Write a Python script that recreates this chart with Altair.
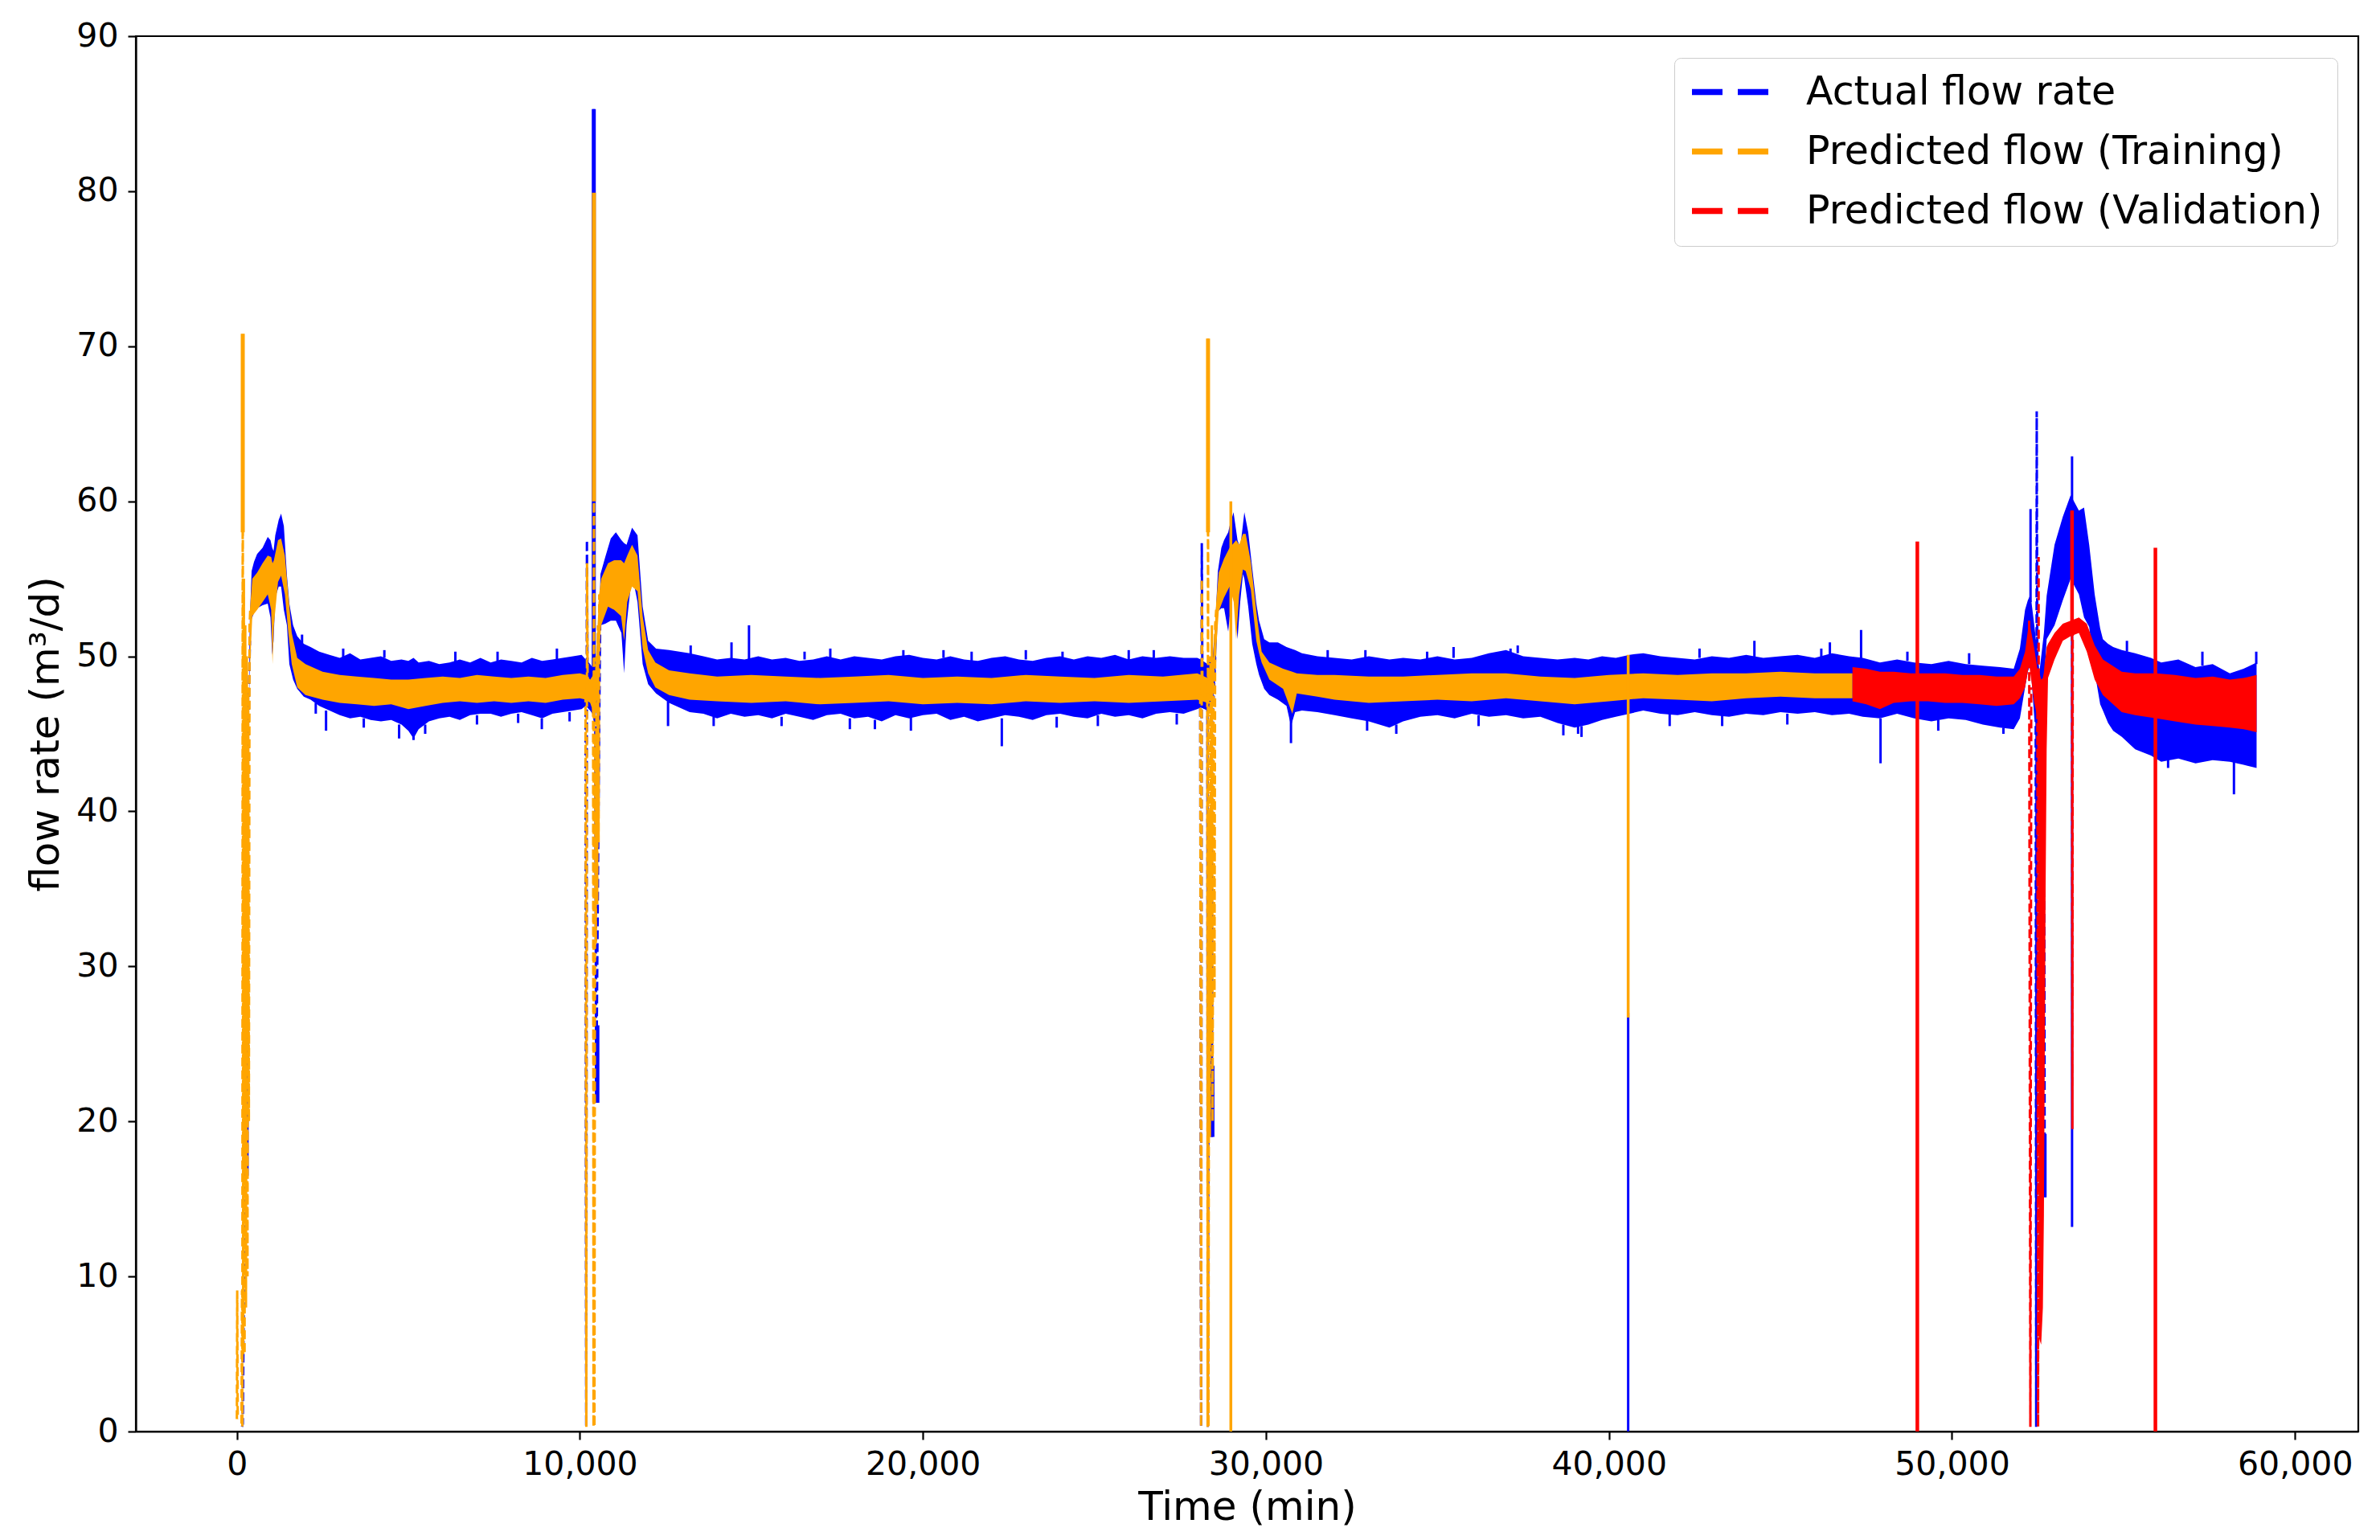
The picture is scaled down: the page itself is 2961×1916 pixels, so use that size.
import altair as alt
import pandas as pd

BLUE = "#0000ff"
ORANGE = "#ffa500"
RED = "#ff0000"
SERIES = ["Actual flow rate", "Predicted flow (Training)", "Predicted flow (Validation)"]

X_TICKS = [0, 10000, 20000, 30000, 40000, 50000, 60000]
Y_TICKS = [0, 10, 20, 30, 40, 50, 60, 70, 80, 90]

# ---- dense noisy bands: (time, low envelope, high envelope) ----
BLUE_BAND = [
    (360, 47.0, 50.0), (380, 50.0, 52.5), (430, 52.4, 55.5), (500, 52.8, 56.1), (590, 53.1, 56.6),
    (750, 53.3, 57.0), (900, 53.4, 57.7), (980, 52.5, 57.5), (1030, 50.1, 57.0), (1070, 51.0, 56.8),
    (1120, 53.8, 57.8), (1220, 54.5, 58.8), (1290, 54.5, 59.2), (1370, 53.0, 58.4), (1460, 52.0, 55.2),
    (1530, 49.5, 53.4), (1640, 48.5, 52.0), (1760, 47.9, 51.3), (1950, 47.4, 50.8), (2150, 47.2, 50.6),
    (2400, 46.8, 50.3), (2700, 46.5, 50.1), (3000, 46.2, 49.9), (3300, 46.0, 50.2), (3600, 46.1, 49.8),
    (3900, 45.9, 49.9), (4200, 45.8, 50.0), (4500, 45.9, 49.7), (4800, 45.6, 49.8), (5000, 45.2, 49.7),
    (5150, 44.7, 49.9), (5300, 45.3, 49.6), (5600, 45.8, 49.7), (5900, 46.0, 49.5), (6200, 46.1, 49.6),
    (6500, 45.9, 49.8), (6800, 46.2, 49.6), (7100, 46.3, 49.9), (7400, 46.3, 49.6), (7700, 46.1, 49.8),
    (8000, 46.3, 49.7), (8300, 46.4, 49.6), (8600, 46.2, 49.9), (8900, 46.0, 49.7), (9200, 46.3, 49.8),
    (9500, 46.4, 49.9), (9800, 46.5, 50.0), (10050, 46.6, 50.1), (10170, 46.8, 49.8), (10300, 46.5, 49.5),
    (10450, 46.0, 49.0), (10560, 48.0, 52.0), (10600, 52.0, 55.3), (10740, 52.1, 56.4), (10900, 52.3, 57.6),
    (11050, 52.3, 58.0), (11210, 51.5, 57.5), (11290, 48.9, 57.3), (11360, 52.0, 57.2), (11520, 55.3, 58.3),
    (11680, 53.5, 57.8), (11830, 49.5, 53.2), (11990, 48.2, 51.0), (12220, 47.6, 50.5), (12600, 47.0, 50.4),
    (13200, 46.4, 50.2), (13600, 46.3, 50.0), (14000, 46.0, 49.8), (14400, 46.3, 49.9), (14800, 46.1, 49.8),
    (15200, 46.2, 50.0), (15600, 46.0, 49.8), (16000, 46.3, 49.9), (16400, 46.1, 49.7), (16800, 45.9, 49.8),
    (17200, 46.2, 50.0), (17600, 46.3, 49.8), (18000, 46.0, 50.0), (18400, 46.1, 49.9), (18800, 45.8, 49.8),
    (19200, 46.2, 50.0), (19600, 46.0, 50.1), (20000, 46.2, 49.9), (20400, 46.3, 49.8), (20800, 45.9, 50.0),
    (21200, 46.1, 49.8), (21600, 45.8, 49.7), (22000, 46.0, 49.9), (22400, 46.2, 50.0), (22800, 46.1, 49.8),
    (23200, 45.9, 49.7), (23600, 46.2, 49.9), (24000, 46.3, 50.0), (24400, 46.1, 49.8), (24800, 46.0, 50.0),
    (25200, 46.3, 49.9), (25600, 46.1, 50.1), (26000, 46.2, 49.8), (26400, 46.0, 50.0), (26800, 46.3, 49.9),
    (27200, 46.4, 50.0), (27600, 46.3, 49.9), (28000, 46.6, 49.9), (28100, 46.7, 49.8), (28300, 46.5, 49.5),
    (28450, 47.0, 50.0), (28520, 48.5, 52.0), (28600, 52.9, 55.5), (28700, 53.1, 57.0), (28780, 53.1, 57.5),
    (28900, 51.6, 58.0), (28940, 52.5, 58.4), (29055, 54.5, 59.3), (29172, 51.1, 57.5), (29250, 53.5, 57.0),
    (29330, 55.3, 58.5), (29370, 55.0, 59.3), (29484, 53.2, 58.0), (29600, 50.8, 55.7), (29720, 49.5, 53.4),
    (29800, 48.8, 52.3), (29950, 47.9, 51.1), (30100, 47.5, 50.9), (30350, 47.2, 50.9), (30600, 46.8, 50.6),
    (30730, 45.5, 50.5), (30850, 46.4, 50.4), (31050, 46.5, 50.2), (31500, 46.4, 50.0), (32000, 46.2, 49.9),
    (32500, 46.0, 49.8), (33000, 45.8, 50.0), (33600, 45.4, 49.8), (34000, 45.8, 49.9), (34500, 46.1, 49.8),
    (35000, 46.2, 50.0), (35500, 46.0, 49.8), (36000, 46.3, 49.9), (36500, 46.1, 50.2), (37000, 46.2, 50.4),
    (37500, 46.0, 50.0), (38000, 46.1, 49.9), (38500, 45.7, 49.8), (39000, 45.4, 49.9), (39400, 45.6, 49.8),
    (39800, 45.9, 50.0), (40200, 46.1, 49.9), (40600, 46.3, 50.1), (41000, 46.5, 50.2), (41500, 46.3, 50.0),
    (42000, 46.2, 49.9), (42500, 46.4, 49.8), (43000, 46.2, 50.0), (43500, 46.1, 49.9), (44000, 46.3, 50.1),
    (44500, 46.2, 49.9), (45000, 46.4, 50.0), (45500, 46.3, 50.1), (46000, 46.4, 49.9), (46500, 46.2, 50.2),
    (47000, 46.3, 50.0), (47400, 46.1, 49.9), (47900, 46.0, 49.6), (48400, 46.3, 49.8), (48900, 46.0, 49.6),
    (49400, 45.8, 49.5), (49900, 46.0, 49.7), (50400, 45.9, 49.5), (50900, 45.6, 49.4), (51400, 45.4, 49.3),
    (51800, 45.3, 49.2), (51980, 46.0, 50.5), (52130, 48.0, 53.0), (52210, 49.0, 53.6), (52290, 49.5, 54.0),
    (52400, 46.0, 52.0), (52550, 45.0, 49.0), (52680, 48.0, 51.5), (52760, 51.1, 53.9), (52990, 52.0, 57.2),
    (53230, 53.6, 59.0), (53460, 55.0, 60.4), (53700, 54.0, 59.4), (53850, 52.5, 59.6), (54000, 51.9, 57.2),
    (54160, 49.0, 54.0), (54320, 46.9, 51.8), (54400, 46.5, 51.1), (54550, 45.7, 50.8), (54700, 45.2, 50.6),
    (54950, 44.8, 50.4), (55340, 44.0, 50.2), (55800, 43.6, 49.9), (56100, 43.2, 49.6), (56600, 43.4, 49.8),
    (57100, 43.1, 49.3), (57600, 43.3, 49.5), (58100, 43.2, 48.9), (58500, 43.0, 49.2), (58880, 42.8, 49.6),
]

ORANGE_BAND = [
    (380, 49.0, 53.0), (450, 52.6, 55.0), (590, 53.0, 55.4), (750, 53.5, 56.0), (900, 54.0, 56.5),
    (1000, 53.0, 56.4), (1040, 49.5, 56.0), (1080, 52.0, 56.2), (1200, 54.8, 57.5), (1290, 55.2, 57.6),
    (1400, 54.0, 56.5), (1500, 51.5, 54.0), (1600, 49.5, 51.5), (1760, 48.0, 49.9), (2000, 47.5, 49.5),
    (2500, 47.2, 49.0), (3000, 47.0, 48.8), (3500, 46.9, 48.7), (4000, 46.8, 48.6), (4500, 46.9, 48.5),
    (5000, 46.6, 48.5), (5500, 46.8, 48.6), (6000, 47.0, 48.7), (6500, 47.1, 48.6), (7000, 47.0, 48.8),
    (7500, 47.1, 48.7), (8000, 47.0, 48.6), (8500, 47.1, 48.7), (9000, 47.0, 48.6), (9500, 47.2, 48.8),
    (10000, 47.3, 48.9), (10170, 47.2, 48.8), (10300, 47.0, 48.5), (10450, 46.0, 49.0), (10560, 50.0, 54.0),
    (10620, 52.0, 55.0), (10820, 53.2, 56.0), (11000, 53.0, 56.2), (11200, 52.6, 56.2), (11290, 51.0, 56.0),
    (11380, 53.5, 56.5), (11520, 54.5, 57.2), (11680, 54.2, 56.5), (11830, 50.5, 52.6), (11990, 48.9, 50.4),
    (12200, 48.0, 49.6), (12600, 47.5, 49.1), (13200, 47.2, 48.9), (14000, 47.1, 48.7), (15000, 47.0, 48.8),
    (16000, 47.1, 48.7), (17000, 46.9, 48.6), (18000, 47.0, 48.7), (19000, 47.1, 48.8), (20000, 46.9, 48.6),
    (21000, 47.0, 48.7), (22000, 46.9, 48.6), (23000, 47.1, 48.8), (24000, 47.0, 48.7), (25000, 47.1, 48.6),
    (26000, 47.0, 48.8), (27000, 47.1, 48.7), (28000, 47.2, 48.9), (28300, 47.0, 48.6), (28450, 47.5, 49.5),
    (28550, 50.5, 53.5), (28625, 52.9, 55.4), (28780, 53.8, 56.3), (28940, 54.5, 57.0), (29060, 53.5, 57.3),
    (29133, 51.1, 57.5), (29220, 54.0, 57.2), (29330, 55.6, 57.9), (29410, 55.5, 57.9), (29560, 54.3, 56.1),
    (29720, 51.0, 52.9), (29800, 50.2, 51.5), (29875, 49.6, 50.3), (30100, 48.5, 49.6), (30500, 47.9, 49.2),
    (30770, 46.3, 49.0), (30900, 47.6, 48.9), (31500, 47.4, 48.8), (32000, 47.2, 48.8), (33000, 47.0, 48.7),
    (34000, 47.1, 48.7), (35000, 47.2, 48.8), (36000, 47.1, 48.9), (37000, 47.3, 48.9), (38000, 47.1, 48.7),
    (39000, 46.9, 48.6), (40000, 47.1, 48.8), (41000, 47.3, 48.9), (42000, 47.2, 48.8), (43000, 47.1, 48.9),
    (44000, 47.3, 48.9), (45000, 47.4, 49.0), (46000, 47.3, 48.9), (47100, 47.3, 48.9),
]

RED_BAND = [
    (47100, 47.1, 49.3), (47500, 46.9, 49.2), (47900, 46.6, 49.0), (48300, 47.0, 49.0), (48800, 47.1, 48.9),
    (49300, 47.1, 48.9), (49800, 47.0, 48.9), (50300, 47.0, 48.8), (50800, 46.9, 48.8), (51300, 46.8, 48.7),
    (51800, 46.9, 48.7), (51980, 47.3, 49.2), (52130, 48.0, 50.3), (52250, 49.5, 52.3), (52400, 47.0, 50.5),
    (52500, 46.0, 49.0), (52540, 6.0, 49.0), (52600, 5.6, 48.5), (52650, 8.0, 48.6), (52680, 14.0, 49.0),
    (52700, 22.0, 49.5), (52730, 35.0, 50.0), (52760, 44.0, 50.6), (52800, 48.6, 50.8), (52990, 49.8, 51.5),
    (53230, 51.0, 52.1), (53460, 51.3, 52.3), (53700, 51.5, 52.5), (53930, 50.3, 52.1), (54160, 48.5, 50.7),
    (54400, 47.5, 49.8), (54950, 46.4, 49.0), (55340, 46.2, 48.9), (55960, 46.0, 48.9), (56500, 45.8, 48.8),
    (57100, 45.6, 48.6), (57600, 45.5, 48.7), (58100, 45.4, 48.5), (58500, 45.3, 48.6), (58880, 45.1, 48.8),
]

# ---- dashed excursions (time, value), one list per stroke ----
BLUE_DASH = [
    [(150, 0.3), (172, 0.5), (200, 8.0), (230, 16.5), (255, 30.0), (275, 17.0), (295, 31.0),
     (315, 24.0), (335, 42.0), (355, 48.0), (380, 51.0)],
    [(10165, 47.5), (10185, 0.3), (10205, 57.5), (10225, 47.0)],
    [(10405, 85.3), (10425, 46.0), (10450, 45.6), (10475, 21.2), (10560, 45.0), (10590, 52.0)],
    [(28085, 47.5), (28110, 0.3), (28130, 57.3), (28150, 47.0)],
    [(28295, 47.0), (28305, 0.3), (28330, 30.0), (28380, 23.6), (28420, 19.0), (28450, 45.9), (28520, 50.0)],
    [(52440, 48.0), (52455, 0.3), (52470, 65.8), (52490, 48.0)],
    [(52690, 45.0), (52700, 19.2)],
]
ORANGE_DASH = [
    [(0, 0.8), (10, 9.1), (25, 0.8)],
    [(135, 0.5), (150, 9.1), (160, 0.3), (172, 70.8), (185, 5.0), (205, 55.0), (225, 5.0), (245, 52.0),
     (265, 8.0), (290, 50.0), (310, 10.0), (330, 48.0), (350, 20.0), (370, 52.0), (390, 53.0)],
    [(10165, 47.6), (10188, 0.3), (10208, 56.0), (10228, 47.5)],
    [(10385, 47.5), (10398, 0.3), (10410, 79.9), (10425, 0.3), (10445, 45.0), (10465, 31.5), (10485, 50.0),
     (10505, 34.0), (10525, 52.0), (10545, 38.0), (10565, 54.0), (10590, 53.0)],
    [(28085, 47.5), (28110, 0.3), (28130, 55.0), (28150, 47.3)],
    [(28290, 47.3), (28300, 0.3), (28312, 70.5), (28325, 0.3), (28345, 40.0), (28365, 19.0), (28385, 50.0),
     (28405, 25.0), (28425, 52.0), (28445, 20.0), (28470, 50.0), (28500, 28.0), (28520, 52.0), (28550, 53.0)],
]
RED_DASH = [
    [(52250, 52.3), (52285, 0.3), (52310, 48.0)],
    [(52490, 49.0), (52510, 0.3), (52525, 56.4), (52540, 6.0)],
    [(53490, 51.5), (53500, 59.4), (53510, 19.5), (53520, 51.5)],
]

# ---- isolated vertical spikes (time, from, to) ----
BLUE_SPIKES = [
    (1900, 50.6, 51.4), (2300, 47.0, 46.3), (2600, 46.5, 45.2), (3100, 49.9, 50.5), (3700, 46.0, 45.4),
    (4300, 49.9, 50.4), (4730, 45.6, 44.7), (5150, 45.5, 44.6), (5490, 45.6, 45.0), (6370, 49.6, 50.3),
    (7000, 46.2, 45.6), (7600, 49.7, 50.3), (8200, 46.3, 45.7), (8890, 46.0, 45.3), (9330, 49.8, 50.5),
    (9700, 46.4, 45.8), (12570, 47.1, 45.5), (13230, 50.1, 50.7), (13900, 46.1, 45.5), (14420, 49.7, 50.9),
    (14930, 49.7, 52.0), (15880, 46.1, 45.5), (16550, 49.8, 50.3), (17300, 49.9, 50.5), (17870, 46.0, 45.3),
    (18600, 45.9, 45.3), (19430, 50.0, 50.4), (19650, 46.1, 45.2), (20600, 49.9, 50.4), (21420, 49.7, 50.3),
    (22300, 46.0, 44.2), (23000, 49.8, 50.4), (23900, 46.1, 45.4), (24070, 49.9, 50.3), (25100, 46.2, 45.5),
    (26000, 49.7, 50.4), (26730, 49.9, 50.4), (27400, 46.3, 45.6), (30730, 46.6, 44.4), (31800, 49.9, 50.4),
    (32900, 49.9, 50.4), (32950, 45.9, 45.2), (33800, 45.6, 45.0), (34700, 49.8, 50.3), (35470, 49.9, 50.6),
    (36200, 46.2, 45.5), (37130, 50.0, 50.5), (37340, 50.2, 50.7), (38670, 45.6, 44.9), (39100, 45.5, 45.0),
    (39200, 45.5, 44.8), (40560, 0.0, 27.0), (41770, 46.4, 45.5), (42640, 49.9, 50.5), (43300, 46.2, 45.5),
    (44240, 49.8, 51.0), (45200, 46.3, 45.6), (46190, 49.9, 50.5), (46440, 49.9, 50.9), (47350, 49.8, 51.7),
    (47917, 46.0, 43.1), (48700, 49.7, 50.3), (49600, 45.9, 45.2), (50500, 49.5, 50.2), (51500, 45.4, 45.0),
    (52290, 53.5, 59.5), (53500, 13.2, 62.9), (55100, 50.3, 51.0), (56300, 43.4, 42.8), (57300, 49.4, 50.3),
    (58220, 43.2, 41.1), (58870, 49.5, 50.3),
]
BLUE_BLOCKS = [(285, 16.5, 31.0), (10405, 48.0, 85.3), (10510, 21.2, 26.2), (28440, 19.0, 23.6), (52700, 15.1, 19.2)]
ORANGE_SPIKES = [(40560, 26.7, 50.1), (28977, 0.0, 60.0)]
ORANGE_BLOCKS = [(172, 58.0, 70.8), (10410, 60.0, 79.9), (28312, 58.0, 70.5)]
RED_BLOCKS = [(48990, 0.0, 57.4), (55930, 0.0, 57.0), (53500, 52.0, 59.4)]

FONT = "DejaVu Sans"
W, H = 2765, 1736

x_enc = alt.X(
    "t:Q",
    scale=alt.Scale(domain=[-2945, 61845], nice=False, zero=False),
    axis=alt.Axis(
        values=X_TICKS, format=",d", title="Time (min)", grid=False,
        labelFont=FONT, labelFontSize=41, labelColor="black", labelPadding=11,
        labelFlush=False, labelOverlap=False,
        tickSize=10, tickWidth=2.2, tickColor="black",
        domainColor="black", domainWidth=2.2,
        titleFont=FONT, titleFontSize=50, titleFontWeight="normal", titleColor="black",
        titleX=W / 2, titleY=94, titleBaseline="middle", titleAlign="center",
    ),
)


def y_enc(field):
    return alt.Y(
        field,
        scale=alt.Scale(domain=[0, 90], nice=False, zero=False),
        axis=alt.Axis(
            values=Y_TICKS, title="flow rate (m³/d)", grid=False,
            labelFont=FONT, labelFontSize=41, labelColor="black", labelPadding=12,
            labelFlush=False, labelOverlap=False,
            tickSize=10, tickWidth=2.2, tickColor="black",
            domainColor="black", domainWidth=2.2,
            titleFont=FONT, titleFontSize=50, titleFontWeight="normal", titleColor="black",
            titleX=-112, titleY=H / 2, titleBaseline="middle", titleAlign="center", titleAngle=270,
        ),
    )


color_scale = alt.Scale(domain=SERIES, range=[BLUE, ORANGE, RED])
legend = alt.Legend(
    title=None, orient="none", legendX=1914, legendY=27,
    symbolType="stroke", symbolStrokeWidth=7.5, symbolSize=9604, symbolDash=[38, 19],
    labelFont=FONT, labelFontSize=49, labelColor="black", labelLimit=2000,
    labelOffset=40, rowPadding=24, padding=18, clipHeight=49,
    fillColor="rgba(255,255,255,0.8)", strokeColor="#cccccc", cornerRadius=8,
)


def band_layer(band, color):
    df = pd.DataFrame(band, columns=["t", "lo", "hi"])
    return alt.Chart(df).mark_area(color=color, opacity=1).encode(x=x_enc, y=y_enc("lo:Q"), y2="hi:Q")


def rule_layer(rules, color, width):
    df = pd.DataFrame(rules, columns=["t", "lo", "hi"])
    return alt.Chart(df).mark_rule(color=color, strokeWidth=width).encode(x=x_enc, y=y_enc("lo:Q"), y2="hi:Q")


def dash_layer(segs, name):
    rows = []
    i = 0
    for k, seg in enumerate(segs):
        for t, v in seg:
            rows.append({"t": t, "v": v, "seg": k, "i": i, "series": name})
            i += 1
    df = pd.DataFrame(rows)
    return alt.Chart(df).mark_line(strokeWidth=3, strokeDash=[11, 5]).encode(
        x=x_enc, y=y_enc("v:Q"),
        color=alt.Color("series:N", scale=color_scale, legend=legend),
        detail="seg:N", order="i:Q",
    )


layers = [
    band_layer(BLUE_BAND, BLUE),
    rule_layer(BLUE_SPIKES, BLUE, 3),
    rule_layer(BLUE_BLOCKS, BLUE, 5),
    dash_layer(BLUE_DASH, SERIES[0]),
    band_layer(ORANGE_BAND, ORANGE),
    rule_layer(ORANGE_SPIKES, ORANGE, 3.5),
    rule_layer(ORANGE_BLOCKS, ORANGE, 5),
    dash_layer(ORANGE_DASH, SERIES[1]),
    band_layer(RED_BAND, RED),
    rule_layer(RED_BLOCKS, RED, 4.5),
    dash_layer(RED_DASH, SERIES[2]),
]

chart = alt.layer(*layers).properties(
    width=W, height=H,
    autosize=alt.AutoSizeParams(type="none"),
    padding={"left": 161, "top": 37, "right": 15, "bottom": 120},
    background="white",
).configure_view(stroke="black", strokeWidth=2.2)

chart.save("out.html", embed_options={"renderer": "svg", "actions": False})
